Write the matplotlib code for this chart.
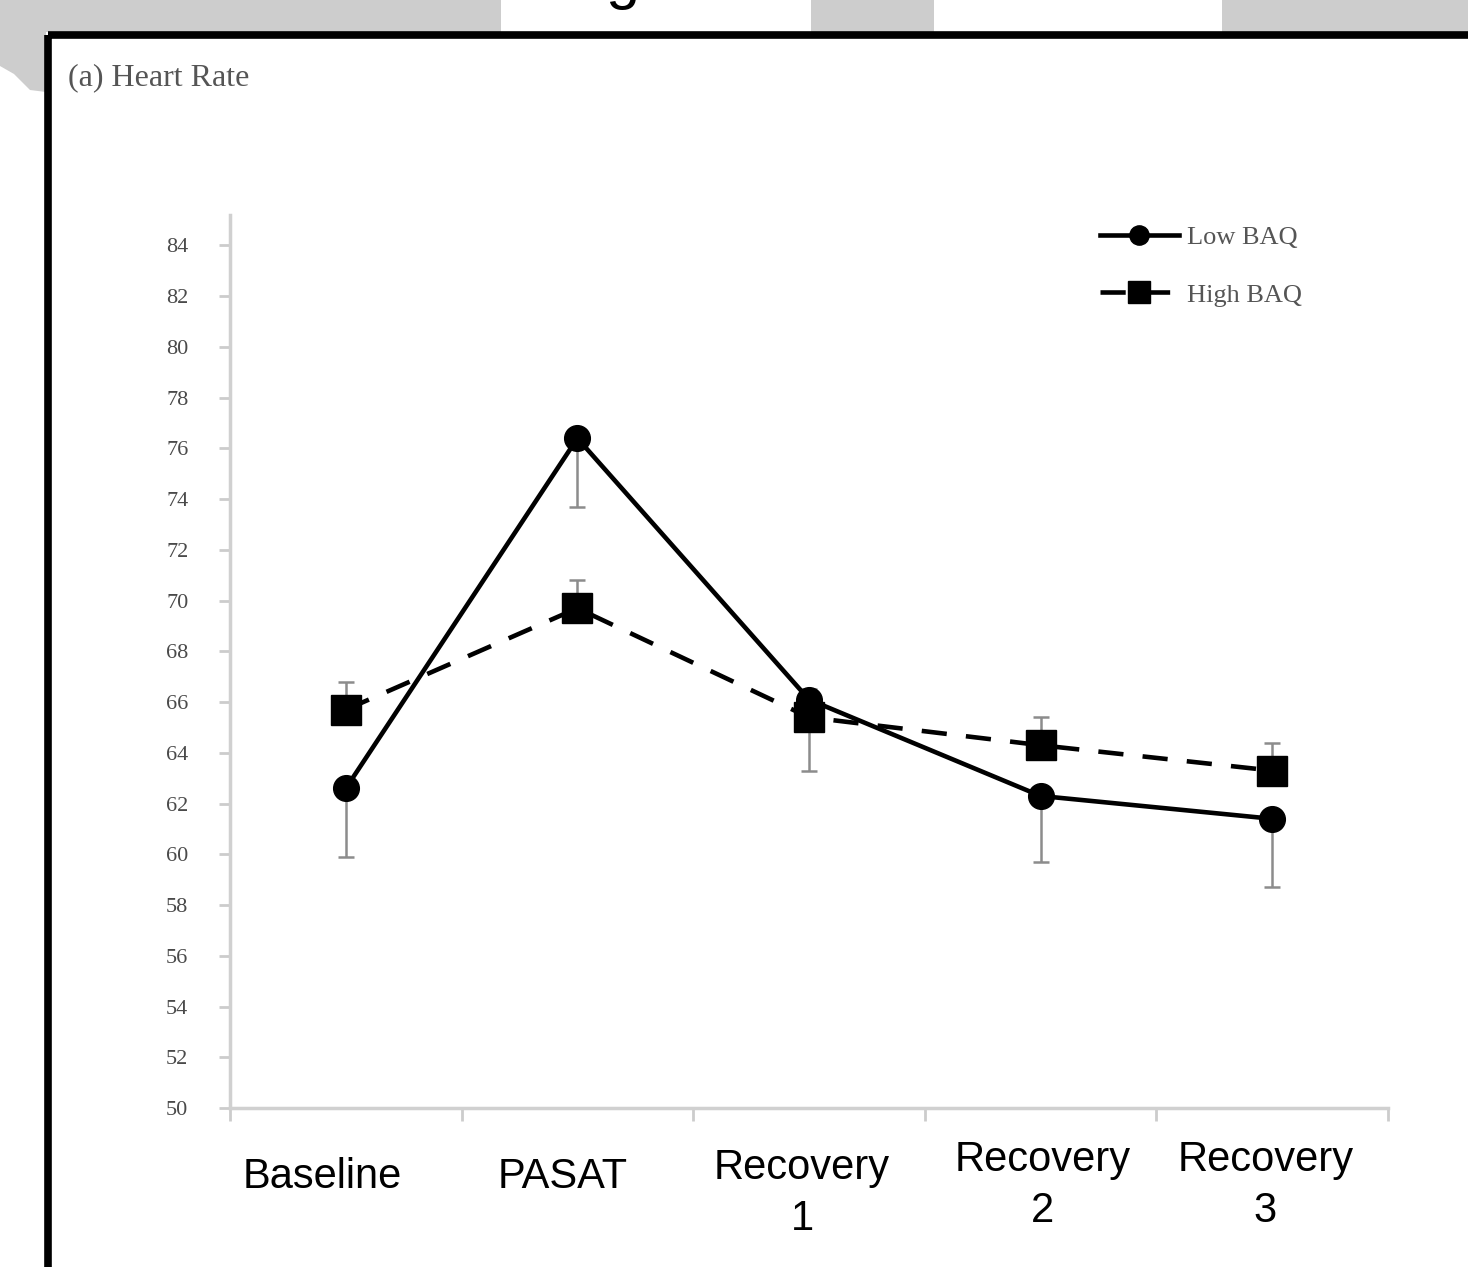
import matplotlib
matplotlib.use("Agg")
import matplotlib.pyplot as plt
from matplotlib.patches import Rectangle, Polygon

# ── Data ─────────────────────────────────────────────────────
phases = ["Baseline", "PASAT", "Recovery\n1", "Recovery\n2", "Recovery\n3"]
low_baq = [62.6, 76.4, 66.1, 62.3, 61.4]
low_err = [2.7, 2.7, 2.8, 2.6, 2.7]          # drawn downward only
high_baq = [65.7, 69.7, 65.4, 64.3, 63.3]
high_err = [1.1, 1.1, 1.1, 1.1, 1.1]         # drawn upward only
y_ticks = list(range(50, 86, 2))

W, H = 1468, 1267
fig = plt.figure(figsize=(W / 100, H / 100), dpi=100)

# ── Slide background (pixel coordinates) ─────────────────────
bg = fig.add_axes([0, 0, 1, 1])
bg.set_xlim(0, W)
bg.set_ylim(H, 0)
bg.axis("off")
bg.add_patch(Rectangle((0, 0), W, 32, color="#cdcdcd", lw=0))
bg.add_patch(Rectangle((501, 0), 310, 32, color="white", lw=0))
bg.add_patch(Rectangle((934, 0), 288, 32, color="white", lw=0))
bg.add_patch(Polygon([(0, 32), (46, 32), (46, 92), (30, 90), (14, 74), (0, 66)],
                     closed=True, color="#cdcdcd", lw=0))
# tail of a slide title that is cut off by the top edge
bg.text(622, -3, "g", family="Liberation Sans", fontsize=44, ha="center",
        va="baseline", clip_on=True)
# black frame of the figure panel
bg.add_patch(Rectangle((48, 35), W + 50, H + 50, fill=False, ec="black", lw=5.5))
bg.text(68, 78, "(a) Heart Rate", family="Liberation Serif", fontsize=23,
        color="#555555", ha="left", va="center")

# ── Chart ────────────────────────────────────────────────────
ax = fig.add_axes([230 / W, 1 - 1108 / H, 1158 / W, (1108 - 215) / H])
ax.patch.set_alpha(0)
x = list(range(len(phases)))

ax.errorbar(x, low_baq, yerr=[low_err, [0] * len(x)], fmt="none",
            ecolor="#8c8c8c", elinewidth=1.8, capsize=6, capthick=1.8, zorder=1)
ax.errorbar(x, high_baq, yerr=[[0] * len(x), high_err], fmt="none",
            ecolor="#8c8c8c", elinewidth=1.8, capsize=6, capthick=1.8, zorder=1)

ax.plot(x, high_baq, color="black", lw=3.3, dashes=(5.5, 4.2), marker="s",
        markersize=21, label="High BAQ", zorder=3)
ax.plot(x, low_baq, color="black", lw=3.3, marker="o", markersize=18.5,
        label="Low BAQ", zorder=4)

ax.set_xlim(-0.5, len(phases) - 0.5)
ax.set_ylim(50, 85.2)
ax.set_yticks(y_ticks)
ax.set_yticklabels([str(v) for v in y_ticks], family="Liberation Serif",
                   fontsize=16, color="#4a4a4a")
ax.set_xticks([i - 0.5 for i in range(len(phases) + 1)])
ax.set_xticklabels([])
ax.tick_params(axis="y", direction="out", length=8, width=2, color="#cccccc", pad=22)
ax.tick_params(axis="x", direction="out", length=9, width=2, color="#cccccc")

for side in ("top", "right"):
    ax.spines[side].set_visible(False)
for side in ("left", "bottom"):
    ax.spines[side].set_color("#d0d0d0")
    ax.spines[side].set_linewidth(2.5)

# category labels under the axis
label_dx = [-0.10, -0.065, -0.03, 0.01, -0.03]
label_y = [-0.077, -0.077, -0.096, -0.087, -0.087]
for i, name in enumerate(phases):
    ax.text(i + label_dx[i], label_y[i], name, transform=ax.get_xaxis_transform(),
            family="Liberation Sans", fontsize=30, ha="center", va="center",
            linespacing=1.35, clip_on=False)

handles, labels = ax.get_legend_handles_labels()
ax.legend(handles[::-1], labels[::-1], loc="center left",
          bbox_to_anchor=(0.751, 0.943), frameon=False, borderpad=0,
          borderaxespad=0, handlelength=3.0, handletextpad=0.3,
          labelspacing=1.3, markerscale=0.75,
          prop={"family": "Liberation Serif", "size": 19},
          labelcolor="#555555")

plt.savefig("out.png", dpi=100)
plt.close()
